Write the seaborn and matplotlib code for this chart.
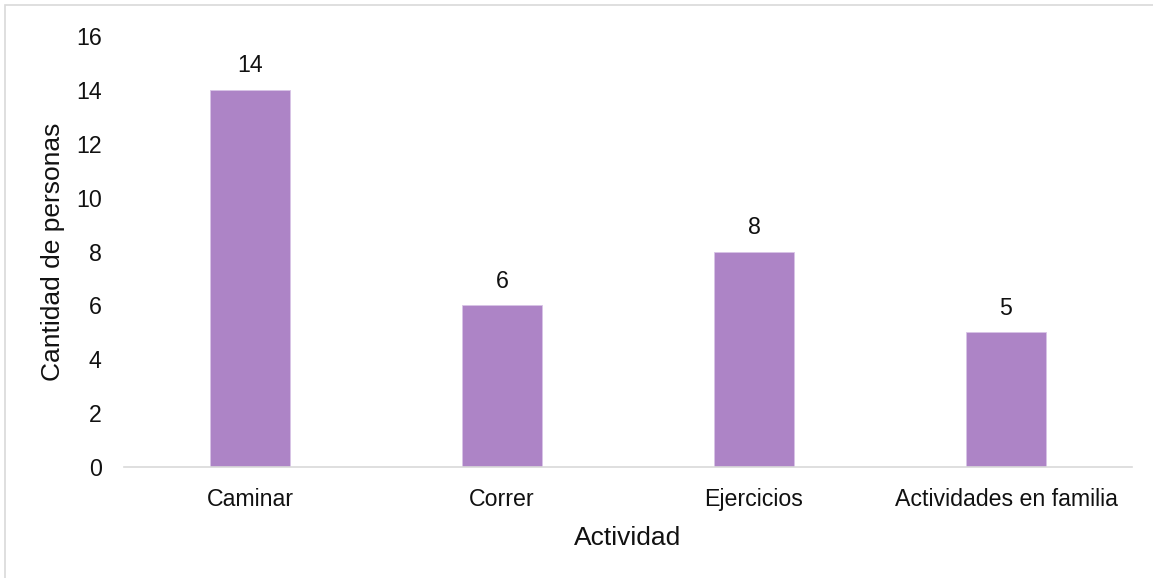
import pandas as pd
import matplotlib.pyplot as plt
import matplotlib.patches as mpatches
import seaborn as sns

# datos
actividades = ['Caminar', 'Correr', 'Ejercicios', 'Actividades en familia']
personas = [14, 6, 8, 5]
yticks = [0, 2, 4, 6, 8, 10, 12, 14, 16]

sns.set_theme(style='white')
plt.rcParams['font.family'] = ['Liberation Sans', 'DejaVu Sans']

df = pd.DataFrame({'Actividad': actividades, 'Cantidad de personas': personas})

fig = plt.figure(figsize=(11.53, 5.78), dpi=100)
ax = fig.add_axes([0.1075, 0.192, 0.8743, 0.7457])

sns.barplot(data=df, x='Actividad', y='Cantidad de personas', color='#AD84C6',
            saturation=1, width=0.317, edgecolor='#D8C4E6', linewidth=0.6, ax=ax)

ax.bar_label(ax.containers[0], fmt='%d', padding=9, fontsize=16.7, color='#111111')

ax.set_ylim(0, 16)
ax.set_yticks(yticks)
ax.tick_params(axis='both', length=0, labelsize=16.7, colors='#111111')
ax.tick_params(axis='x', pad=15)
ax.tick_params(axis='y', pad=16)
for s in ['top', 'right', 'left']:
    ax.spines[s].set_visible(False)
ax.spines['bottom'].set_color('#D9D9D9')
ax.spines['bottom'].set_linewidth(1.2)

ax.set_xlabel('Actividad', fontsize=19, color='#111111', labelpad=11)
ax.set_ylabel('Cantidad de personas', fontsize=19, color='#111111', labelpad=8)

# marco exterior
fig.patches.append(mpatches.Rectangle((5 / 1153, -0.05), 1.2, 1 - 5 / 578 + 0.05,
                                      transform=fig.transFigure, fill=False,
                                      edgecolor='#D9D9D9', linewidth=1.2))

fig.savefig('out.png', dpi=100)
